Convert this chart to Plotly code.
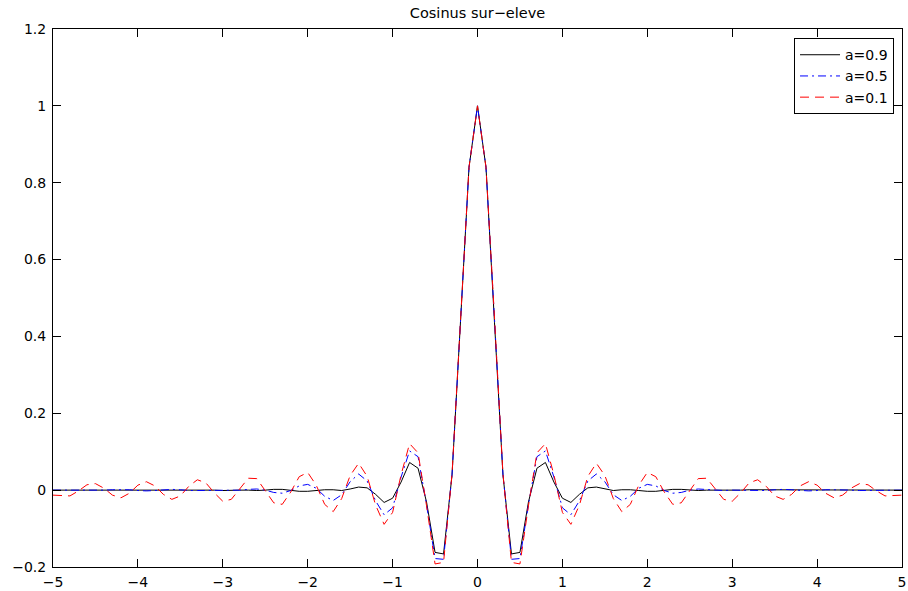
import plotly.graph_objects as go

x_vals = [-5.0, -4.9, -4.8, -4.7, -4.6, -4.5, -4.4, -4.3, -4.2, -4.1,
          -4.0, -3.9, -3.8, -3.7, -3.6, -3.5, -3.4, -3.3, -3.2, -3.1,
          -3.0, -2.9, -2.8, -2.7, -2.6, -2.5, -2.4, -2.3, -2.2, -2.1,
          -2.0, -1.9, -1.8, -1.7, -1.6, -1.5, -1.4, -1.3, -1.2, -1.1,
          -1.0, -0.9, -0.8, -0.7, -0.6, -0.5, -0.4, -0.3, -0.2, -0.1,
          0.0,
          0.1, 0.2, 0.3, 0.4, 0.5, 0.6, 0.7, 0.8, 0.9, 1.0,
          1.1, 1.2, 1.3, 1.4, 1.5, 1.6, 1.7, 1.8, 1.9, 2.0,
          2.1, 2.2, 2.3, 2.4, 2.5, 2.6, 2.7, 2.8, 2.9, 3.0,
          3.1, 3.2, 3.3, 3.4, 3.5, 3.6, 3.7, 3.8, 3.9, 4.0,
          4.1, 4.2, 4.3, 4.4, 4.5, 4.6, 4.7, 4.8, 4.9, 5.0]

y_a09 = [0.000, 0.000, 0.000, 0.000, 0.000, 0.000, 0.000, 0.000, 0.000, 0.000,
         0.000, 0.000, 0.000, 0.000, 0.000, 0.000, 0.000, 0.001, 0.001, 0.000,
         -0.001, 0.000, 0.000, 0.000, -0.001, 0.000, 0.002, 0.002, 0.000, -0.003,
         -0.003, -0.001, 0.001, 0.001, -0.001, 0.003, 0.008, 0.006, -0.011, -0.032,
         -0.021, 0.021, 0.072, 0.057, -0.031, -0.162, -0.166, 0.039, 0.437, 0.840,
         1.000,
         0.840, 0.437, 0.039, -0.166, -0.162, -0.031, 0.057, 0.072, 0.021, -0.021,
         -0.032, -0.011, 0.006, 0.008, 0.003, -0.001, 0.001, 0.001, -0.001, -0.003,
         -0.003, 0.000, 0.002, 0.002, 0.000, -0.001, 0.000, 0.000, 0.000, -0.001,
         0.000, 0.001, 0.001, 0.000, 0.000, 0.000, 0.000, 0.000, 0.000, 0.000,
         0.000, 0.000, 0.000, 0.000, 0.000, 0.000, 0.000, 0.000, 0.000, 0.000]

y_a05 = [0.000, 0.000, 0.000, 0.000, -0.001, -0.001, 0.000, 0.001, 0.001, 0.001,
         -0.001, -0.002, -0.001, 0.001, 0.002, 0.001, -0.001, -0.001, -0.001, 0.000,
         0.000, -0.001, 0.000, 0.002, 0.003, 0.000, -0.006, -0.008, -0.001, 0.011,
         0.015, 0.005, -0.016, -0.027, -0.012, 0.022, 0.042, 0.024, -0.028, -0.064,
         -0.046, 0.034, 0.102, 0.087, -0.038, -0.178, -0.180, 0.041, 0.446, 0.840,
         1.000,
         0.840, 0.446, 0.041, -0.180, -0.178, -0.038, 0.087, 0.102, 0.034, -0.046,
         -0.064, -0.028, 0.024, 0.042, 0.022, -0.012, -0.027, -0.016, 0.005, 0.015,
         0.011, -0.001, -0.008, -0.006, 0.000, 0.003, 0.002, 0.000, -0.001, 0.000,
         0.000, -0.001, -0.001, -0.001, 0.001, 0.002, 0.001, -0.001, -0.002, -0.001,
         0.001, 0.001, 0.001, 0.000, -0.001, -0.001, 0.000, 0.000, 0.000, 0.000]

y_a01 = [-0.013, -0.014, -0.015, -0.002, 0.014, 0.017, 0.005, -0.013, -0.020, -0.008,
         0.013, 0.022, 0.011, -0.011, -0.024, -0.015, 0.010, 0.027, 0.019, -0.007,
         -0.029, -0.024, 0.004, 0.031, 0.030, 0.000, -0.033, -0.037, -0.005, 0.035,
         0.046, 0.013, -0.037, -0.056, -0.022, 0.038, 0.070, 0.036, -0.039, -0.089,
         -0.058, 0.040, 0.121, 0.097, -0.041, -0.192, -0.188, 0.042, 0.450, 0.840,
         1.000,
         0.840, 0.450, 0.042, -0.188, -0.192, -0.041, 0.097, 0.121, 0.040, -0.058,
         -0.089, -0.039, 0.036, 0.070, 0.038, -0.022, -0.056, -0.037, 0.013, 0.046,
         0.035, -0.005, -0.037, -0.033, 0.000, 0.030, 0.031, 0.004, -0.024, -0.029,
         -0.007, 0.019, 0.027, 0.010, -0.015, -0.024, -0.011, 0.011, 0.022, 0.013,
         -0.008, -0.020, -0.013, 0.005, 0.017, 0.014, -0.002, -0.015, -0.014, -0.013]

series_names = ["a=0.9", "a=0.5", "a=0.1"]
x_ticks = [-5, -4, -3, -2, -1, 0, 1, 2, 3, 4, 5]
x_tick_labels = ["\u22125", "\u22124", "\u22123", "\u22122", "\u22121", "0", "1", "2", "3", "4", "5"]
y_ticks = [-0.2, 0, 0.2, 0.4, 0.6, 0.8, 1, 1.2]
y_tick_labels = ["\u22120.2", "0", "0.2", "0.4", "0.6", "0.8", "1", "1.2"]

FONT = "DejaVu Sans, Liberation Sans, Arial, sans-serif"

fig = go.Figure()
fig.add_trace(go.Scatter(x=x_vals, y=y_a09, mode="lines", name=series_names[0],
                         line=dict(color="#000000", width=1)))
fig.add_trace(go.Scatter(x=x_vals, y=y_a05, mode="lines", name=series_names[1],
                         line=dict(color="#0000ff", width=1, dash="8px,4px,2px,4px")))
fig.add_trace(go.Scatter(x=x_vals, y=y_a01, mode="lines", name=series_names[2],
                         line=dict(color="#ff0000", width=1, dash="9px,6px")))

axis_common = dict(showgrid=False, zeroline=False, showline=True, linecolor="black",
                   linewidth=1, mirror="ticks", ticks="inside", ticklen=8,
                   tickcolor="black", tickwidth=1, automargin=False,
                   tickfont=dict(family=FONT, size=14, color="black"))

fig.update_layout(
    width=908, height=591,
    margin=dict(l=53, r=6, t=29, b=24, autoexpand=False),
    paper_bgcolor="white", plot_bgcolor="white",
    font=dict(family=FONT, size=14, color="black"),
    title=dict(text="Cosinus sur\u2212eleve", x=0.5, xref="paper",
               y=1 - 13 / 591, yref="container", yanchor="middle", xanchor="center",
               font=dict(family=FONT, size=14.5, color="black")),
    xaxis=dict(range=[-5, 5], tickvals=x_ticks, ticktext=x_tick_labels,
               ticklabelstandoff=2, **axis_common),
    yaxis=dict(range=[-0.2, 1.2], tickvals=y_ticks, ticktext=y_tick_labels,
               ticklabelstandoff=3, **axis_common),
    legend=dict(x=0.9906, y=0.983, xanchor="right", yanchor="top",
                bgcolor="white", bordercolor="black", borderwidth=1,
                font=dict(family=FONT, size=14, color="black"),
                tracegroupgap=0, itemwidth=40),
    showlegend=True,
)

fig.write_html("out.html")
